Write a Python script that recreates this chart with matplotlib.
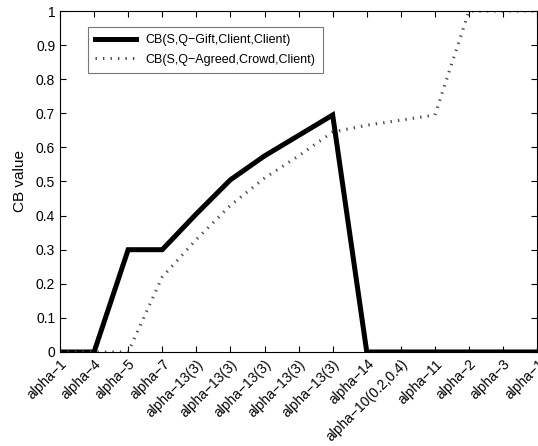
import matplotlib.pyplot as plt
import numpy as np

plt.rcParams['font.family'] = ['Liberation Sans', 'DejaVu Sans']

# x categories (in order along the axis)
labels = ['alpha\u22121', 'alpha\u22124', 'alpha\u22125', 'alpha\u22127',
          'alpha\u221213(3)', 'alpha\u221213(3)', 'alpha\u221213(3)',
          'alpha\u221213(3)', 'alpha\u221213(3)', 'alpha\u221214',
          'alpha\u221210(0.2,0.4)', 'alpha\u221211', 'alpha\u22122',
          'alpha\u22123', 'alpha\u22121']

gift = [0, 0, 0.30, 0.30, 0.405, 0.505, 0.575, 0.635, 0.695, 0, 0, 0, 0, 0, 0]
agreed = [0, 0, 0, 0.22, 0.33, 0.43, 0.51, 0.575, 0.645, 0.665, 0.68, 0.695, 1, 1, 1]

x = np.arange(1, len(labels) + 1)

fig = plt.figure(figsize=(5.38, 4.46), dpi=100)
ax = fig.add_axes([0.1115, 0.2108, 0.887, 0.7645])

ax.plot(x, gift, color='black', lw=3.6, solid_joinstyle='miter',
        label='CB(S,Q\u2212Gift,Client,Client)')
ax.plot(x, agreed, color='#4a4a4a', lw=2.2, ls=(0, (0.45, 2.0)),
        dash_capstyle='butt', label='CB(S,Q\u2212Agreed,Crowd,Client)')

ax.set_xlim(1, 15)
ax.set_ylim(0, 1)
ax.set_xticks(x)
ax.set_xticklabels(labels, rotation=45, ha='right', rotation_mode='anchor')
ax.set_yticks(np.arange(0, 1.01, 0.1))
ax.set_yticklabels(['0', '0.1', '0.2', '0.3', '0.4', '0.5', '0.6', '0.7', '0.8', '0.9', '1'])
ax.tick_params(direction='in', top=True, right=True, labelsize=10, length=4)
ax.set_ylabel('CB value', fontsize=11, labelpad=6)

leg = ax.legend(loc='upper left', bbox_to_anchor=(0.045, 0.97), fontsize=9,
                frameon=True, fancybox=False, edgecolor='#555555',
                handlelength=3.3, borderpad=0.55, labelspacing=0.6)
leg.get_frame().set_linewidth(0.8)

fig.savefig('out.png', dpi=100)
